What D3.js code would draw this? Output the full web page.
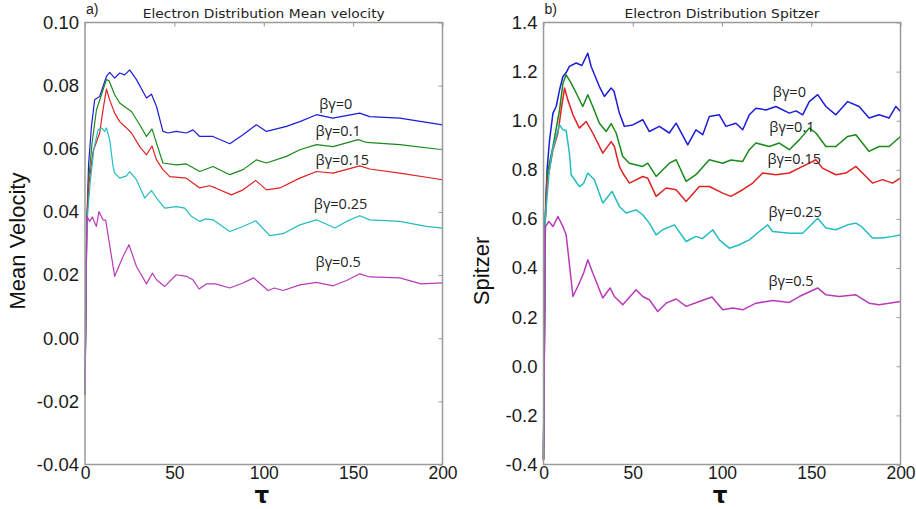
<!DOCTYPE html>
<html>
<head>
<meta charset="utf-8">
<script src="https://cdn.jsdelivr.net/npm/d3@7"></script>
<style>
  html, body { margin: 0; padding: 0; background: #fff; }
  svg { display: block; }
</style>
</head>
<body>
<svg id="chart" width="916" height="509"></svg>
<script>
// ---------------- DATA ----------------
const xTicks = [0, 50, 100, 150, 200];
const mvTicks = [-0.04, -0.02, 0.00, 0.02, 0.04, 0.06, 0.08, 0.10];
const spTicks = [-0.4, -0.2, 0.0, 0.2, 0.4, 0.6, 0.8, 1.0, 1.2, 1.4];
const seriesNames = ["βγ=0", "βγ=0.1", "βγ=0.15", "βγ=0.25", "βγ=0.5"];

// Panel a) Mean velocity, [tau, value]
const mv_b0 = [[0,-0.018],[1,0.036],[2,0.055],[3.6,0.067],[5.4,0.0755],[8.2,0.0766],[12,0.0829],[13.8,0.0842],[16.6,0.0824],[19.4,0.084],[22.2,0.0834],[25,0.085],[28.8,0.0819],[34.4,0.0761],[37.2,0.0773],[40,0.0734],[43.6,0.0655],[46.4,0.065],[51.1,0.0655],[56.7,0.065],[60.4,0.066],[64.2,0.0639],[71.5,0.0639],[81,0.0616],[88.2,0.0644],[95.9,0.0676],[101.5,0.0655],[112.7,0.0671],[120.2,0.0686],[129.5,0.0708],[138.6,0.0697],[153.7,0.0713],[159.3,0.0702],[176.1,0.0697],[200,0.0676]];
const mv_b01 = [[0,-0.018],[1,0.036],[2,0.05],[4,0.062],[6.4,0.0723],[10.1,0.0787],[12,0.0819],[13.4,0.0816],[16.6,0.0771],[19.4,0.0745],[23.2,0.0729],[26,0.0718],[30.6,0.0676],[34.4,0.0639],[37.5,0.0663],[40,0.0618],[43.6,0.0555],[51.2,0.0549],[56.7,0.0552],[64.2,0.0528],[71.6,0.0544],[81,0.0518],[88.4,0.0534],[95.9,0.0565],[101.5,0.0555],[112.7,0.0576],[120.2,0.0597],[129.5,0.0613],[138.8,0.0607],[152.8,0.0629],[157.5,0.062],[176.1,0.0613],[200,0.0597]];
const mv_b015 = [[0,-0.018],[1,0.036],[2,0.048],[4.5,0.0591],[8.2,0.065],[10.1,0.0724],[12,0.0789],[13.8,0.0755],[16.6,0.0713],[19.4,0.0686],[23.2,0.0666],[26,0.065],[30.6,0.0607],[34.4,0.0581],[37.5,0.0609],[40,0.0565],[43.6,0.0534],[47.4,0.0512],[56.7,0.0507],[64.2,0.0476],[69.8,0.0483],[73,0.0476],[81.9,0.0454],[88.4,0.047],[95.5,0.05],[101.5,0.047],[109,0.0476],[120.2,0.0507],[129.5,0.0528],[138.8,0.0523],[153.7,0.0546],[159.3,0.0536],[176.1,0.0523],[200,0.0502]];
const mv_b025 = [[0,-0.018],[1,0.036],[3,0.05],[5,0.06],[7.3,0.066],[9.2,0.0666],[11,0.0655],[12,0.0666],[13.8,0.0629],[15.7,0.0544],[16.6,0.0523],[19.4,0.0507],[23.2,0.0514],[25,0.0528],[28.8,0.0502],[33.4,0.0444],[37.2,0.0468],[40,0.0444],[44.6,0.0412],[51.1,0.0417],[55.8,0.0412],[59.5,0.0386],[64.2,0.037],[67.5,0.0378],[71.6,0.0375],[81,0.0338],[88.4,0.0354],[95.5,0.0372],[103.4,0.0325],[110.8,0.0331],[120.2,0.0359],[129.5,0.0375],[139.8,0.0349],[146.3,0.037],[153.7,0.0388],[159.3,0.0375],[176.1,0.037],[191,0.0354],[200,0.0349]];
const mv_b05 = [[0,-0.018],[0.6,0.02],[1.1,0.0386],[2.6,0.037],[4.1,0.0384],[6.4,0.0354],[7.8,0.0401],[10.1,0.0375],[11.6,0.0373],[16.6,0.0196],[21.3,0.0259],[24.6,0.0296],[28.8,0.0227],[34.4,0.0172],[37.7,0.0206],[40,0.0185],[44.6,0.0164],[51.1,0.0201],[56.7,0.0196],[60.4,0.0185],[63.8,0.0156],[67.9,0.0172],[73,0.0172],[81,0.0159],[88.4,0.0175],[94.4,0.0191],[102.4,0.0151],[106,0.0159],[110.8,0.0151],[120.2,0.0169],[129.5,0.0177],[138.8,0.0166],[146.3,0.0183],[153.7,0.0204],[159.3,0.0194],[176.1,0.0191],[188,0.0172],[200,0.0175]];

// Panel b) Spitzer, [tau, value]
const sp_b0 = [[0,-0.38],[1,0.6],[2,0.8],[3.4,0.922],[5.3,1.031],[7.1,1.058],[9,1.126],[10.9,1.18],[12.7,1.196],[14.5,1.221],[18.3,1.235],[21.5,1.225],[24.8,1.275],[26.7,1.221],[31.3,1.139],[34.1,1.099],[37.9,1.133],[39.5,1.12],[42.5,1.031],[45.3,0.977],[50,0.983],[55.6,1.004],[59.3,0.956],[64.9,0.977],[70.5,0.95],[74.3,0.99],[80.8,0.902],[85.4,0.963],[89.2,0.943],[92.9,1.017],[98.5,1.024],[102.2,0.977],[107.8,0.99],[111.6,0.963],[115.3,1.024],[119,1.051],[124.6,1.044],[130.2,1.058],[137.7,1.031],[141.5,1.04],[145.2,1.024],[148.9,1.078],[153.6,1.106],[158.2,1.058],[163.8,1.024],[170.4,1.078],[176.8,1.058],[182.4,1.011],[188,1.024],[193.6,1.011],[197.4,1.058],[200,1.038]];
const sp_b01 = [[0,-0.38],[1,0.6],[2,0.78],[5.3,0.895],[9,1.044],[10.9,1.153],[12.7,1.187],[15.5,1.153],[18.3,1.113],[22,1.058],[24.8,1.106],[27.6,1.058],[31.3,0.99],[35.1,0.956],[37.9,0.988],[40.7,0.95],[44.4,0.854],[48.1,0.827],[55.6,0.814],[58.4,0.827],[63.1,0.773],[70.5,0.827],[74.3,0.841],[79.9,0.753],[85.4,0.78],[92.9,0.841],[100.4,0.827],[105,0.84],[111.6,0.834],[115.3,0.882],[119,0.909],[126.5,0.895],[132.1,0.909],[137.7,0.882],[143.3,0.922],[148.9,0.97],[152.6,0.95],[158.2,0.895],[163.8,0.895],[170.4,0.936],[175,0.943],[182.4,0.875],[188,0.895],[193.6,0.895],[200,0.936]];
const sp_b015 = [[0,-0.38],[1,0.6],[2,0.75],[5.3,0.882],[8.1,0.95],[9.9,1.044],[11.8,1.133],[13.6,1.085],[16.5,1.024],[20.1,0.97],[23.9,0.997],[27.6,0.95],[33.2,0.868],[37.9,0.915],[39.7,0.895],[42.5,0.814],[44.4,0.787],[48.1,0.746],[55.6,0.773],[58.4,0.766],[63.1,0.692],[68.7,0.726],[74.3,0.719],[79.9,0.671],[87.3,0.732],[92.9,0.732],[100.4,0.705],[105,0.692],[111.6,0.719],[117.2,0.746],[122.8,0.787],[130.2,0.78],[137.7,0.787],[145.2,0.814],[152.6,0.841],[156.3,0.807],[163.8,0.78],[169.4,0.787],[175,0.814],[178.7,0.787],[184.3,0.746],[189.9,0.76],[195.5,0.746],[200,0.766]];
const sp_b025 = [[0,-0.38],[1,0.6],[3,0.78],[5,0.88],[7.1,0.936],[9,0.983],[10.9,0.963],[12.7,0.96],[14.5,0.868],[15.5,0.78],[20.1,0.732],[22.5,0.745],[24.8,0.787],[28.5,0.76],[33.2,0.665],[38.4,0.712],[42.5,0.651],[46.3,0.624],[51.9,0.637],[55.6,0.617],[59.3,0.583],[63.1,0.535],[66.8,0.556],[73.3,0.576],[79.9,0.508],[85.4,0.529],[89,0.52],[94.8,0.556],[98.5,0.515],[104.1,0.481],[109.7,0.495],[115.3,0.515],[120.9,0.549],[125.6,0.576],[128.4,0.549],[137.7,0.542],[145.2,0.542],[153.6,0.603],[158.2,0.563],[163.8,0.556],[170.4,0.576],[175,0.583],[178,0.57],[184.3,0.522],[189.9,0.522],[195.5,0.529],[200,0.535]];
const sp_b05 = [[0,-0.38],[0.6,0.3],[1.1,0.569],[3,0.59],[5.3,0.569],[8.1,0.61],[10.9,0.569],[12.7,0.535],[16.5,0.284],[20.1,0.339],[22.5,0.38],[24.8,0.434],[27.6,0.38],[33.2,0.278],[37.3,0.319],[39.7,0.284],[44.4,0.251],[51.9,0.312],[55.6,0.284],[59.3,0.271],[64,0.223],[68.7,0.257],[74.3,0.274],[79.9,0.244],[87.3,0.264],[94.4,0.282],[100.4,0.23],[106,0.237],[111.6,0.23],[119,0.257],[128.4,0.268],[137.7,0.26],[143.3,0.284],[153.6,0.319],[158.2,0.291],[165.6,0.284],[175,0.291],[182.4,0.257],[188,0.251],[200,0.264]];

// label anchor positions in data space [tau, value]
const mvLabelPos = [[131, 0.0725], [129, 0.0642], [129, 0.0550], [128, 0.0408], [129, 0.0227]];
const spLabelPos = [[128.5, 1.097], [126.5, 0.954], [125.5, 0.823], [126, 0.607], [126, 0.326]];

const colors = ["#1c1cd9", "#1a8a1a", "#e02222", "#22bcc2", "#b93ab9"];

// ---------------- DRAW ----------------
const svg = d3.select("#chart");
const hyphen = f => d => f(d).replace("\u2212", "-");

function panel(cfg) {
  const x = d3.scaleLinear().domain([0, 200]).range([cfg.left, cfg.right]);
  const y = d3.scaleLinear().domain(cfg.yDomain).range([cfg.bottom, cfg.top]);
  const g = svg.append("g");

  // lines
  const line = d3.line().x(d => x(d[0])).y(d => y(d[1]));
  cfg.series.forEach((s, i) => {
    g.append("path").datum(s).attr("d", line)
      .attr("fill", "none").attr("stroke", colors[i])
      .attr("stroke-width", cfg.lw).attr("stroke-linejoin", "round");
  });

  // frame
  g.append("rect").attr("x", cfg.left).attr("y", cfg.top)
    .attr("width", cfg.right - cfg.left).attr("height", cfg.bottom - cfg.top)
    .attr("fill", "none").attr("stroke", "#9a9a9a").attr("stroke-width", 1.5);

  // axes
  const font = "'Liberation Sans', Arial, sans-serif";
  const ya = g.append("g").attr("transform", `translate(${cfg.left},0)`)
    .call(d3.axisLeft(y).tickValues(cfg.yTicks).tickSize(0).tickPadding(6).tickFormat(hyphen(cfg.yFmt)));
  ya.select(".domain").remove();
  ya.selectAll("text").attr("font-family", font).attr("font-size", 18.5).attr("fill", "#1a1a1a");

  const yr = g.append("g").attr("transform", `translate(${cfg.right},0)`)
    .call(d3.axisLeft(y).tickValues(cfg.yTicks).tickSize(4).tickFormat(""));
  yr.select(".domain").remove();
  yr.selectAll("line").attr("stroke", "#9a9a9a");

  const xa = g.append("g").attr("transform", `translate(0,${cfg.bottom})`)
    .call(d3.axisBottom(x).tickValues(xTicks).tickSize(0).tickPadding(2).tickFormat(d3.format("d")));
  xa.select(".domain").remove();
  xa.selectAll("text").attr("font-family", font).attr("font-size", 17.5).attr("fill", "#1a1a1a");

  const xt = g.append("g").attr("transform", `translate(0,${cfg.top})`)
    .call(d3.axisBottom(x).tickValues(xTicks).tickSize(4).tickFormat(""));
  xt.select(".domain").remove();
  xt.selectAll("line").attr("stroke", "#9a9a9a");

  // x title
  g.append("text").attr("x", (cfg.left + cfg.right) / 2 - 2).attr("y", 503)
    .attr("text-anchor", "middle").attr("font-family", "'DejaVu Sans', sans-serif")
    .attr("font-weight", "bold").attr("font-size", 23).attr("fill", "#111").text("τ");

  // y title
  g.append("text").attr("transform", `translate(${cfg.yTitleX},${cfg.yTitleY}) rotate(-90)`)
    .attr("text-anchor", "middle").attr("dy", "0.35em")
    .attr("font-family", font).attr("font-size", 22).attr("fill", "#111").text(cfg.yTitle);

  // panel title
  g.append("text").attr("x", (cfg.left + cfg.right) / 2).attr("y", 18)
    .attr("text-anchor", "middle").attr("font-family", "'DejaVu Sans', sans-serif")
    .attr("font-size", 12.5).attr("fill", "#222")
    .attr("textLength", cfg.titleLen).attr("lengthAdjust", "spacingAndGlyphs")
    .text(cfg.title);
  g.append("text").attr("x", cfg.left + 1).attr("y", 14)
    .attr("font-family", font)
    .attr("font-size", 14).attr("fill", "#222").text(cfg.tag);

  // series labels
  cfg.labelPos.forEach((p, i) => {
    g.append("text").attr("x", x(p[0])).attr("y", y(p[1]))
      .attr("font-family", "'Open Sans', sans-serif").attr("font-size", 14.5)
      .attr("fill", "#222").text(seriesNames[i]);
  });
}

panel({
  left: 85, right: 442.5, top: 22.5, bottom: 464.5,
  yDomain: [-0.04, 0.10], yTicks: mvTicks, yFmt: d3.format(".2f"),
  series: [mv_b0, mv_b01, mv_b015, mv_b025, mv_b05], lw: 1.2,
  yTitle: "Mean Velocity", yTitleX: 17, yTitleY: 241,
  title: "Electron Distribution Mean velocity", titleLen: 242, tag: "a)",
  labelPos: mvLabelPos
});

panel({
  left: 543.5, right: 900.5, top: 22.5, bottom: 464.5,
  yDomain: [-0.4, 1.4], yTicks: spTicks, yFmt: d3.format(".1f"),
  series: [sp_b0, sp_b01, sp_b015, sp_b025, sp_b05], lw: 1.5,
  yTitle: "Spitzer", yTitleX: 481, yTitleY: 271,
  title: "Electron Distribution Spitzer", titleLen: 195, tag: "b)",
  labelPos: spLabelPos
});
</script>
</body>
</html>
